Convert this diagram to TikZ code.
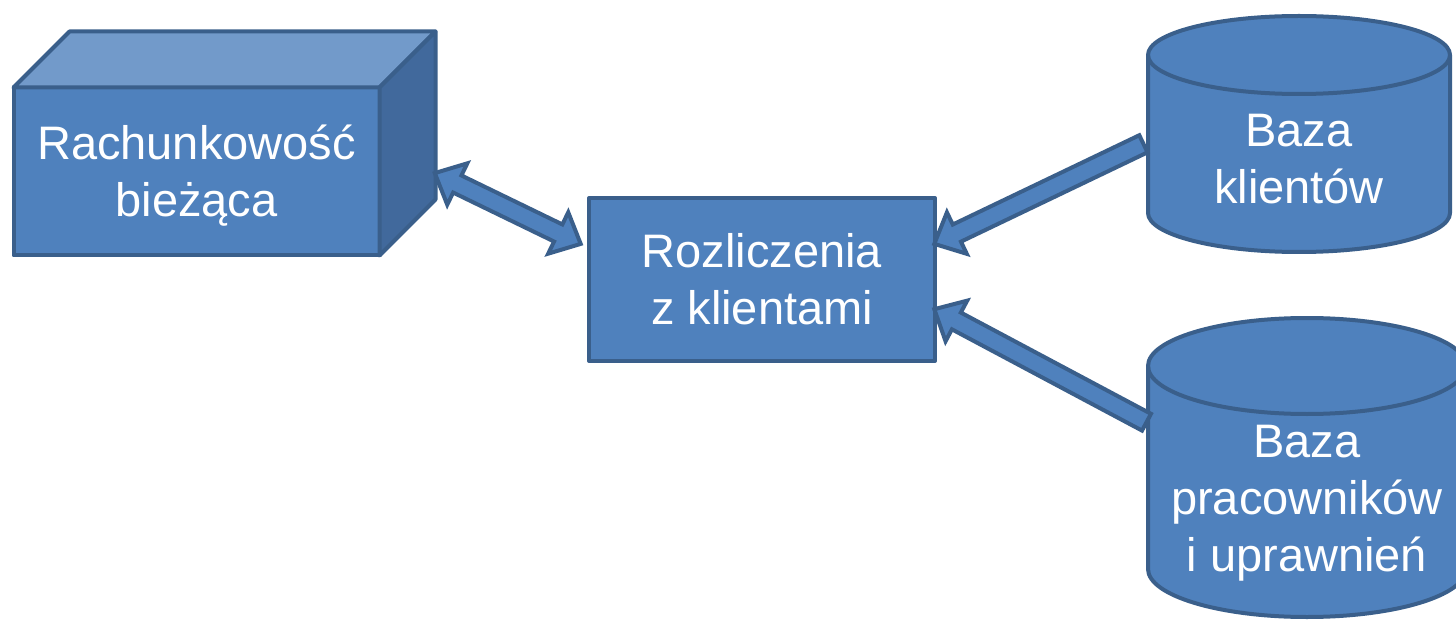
\documentclass[tikz,border=0pt]{standalone}
\usepackage{fontspec}
\setmainfont{Liberation Sans}
\usetikzlibrary{calc}
\definecolor{fillblue}{HTML}{4F81BD}
\definecolor{edgeblue}{HTML}{3A5F8B}
\definecolor{topblue}{HTML}{729ACA}
\definecolor{sideblue}{HTML}{41699C}
\newcommand\capstrut{\rule[-11.7pt]{0pt}{57pt}}
% single block arrow: #1 tail, #2 tip
\newcommand\singleblk[2]{%
  \coordinate (hA) at ($(#2)!25pt!(#1)$);
  \draw[blk] ($(#1)!9.5pt!90:(#2)$) -- ($(hA)!9.5pt!90:(#2)$) -- ($(hA)!23pt!90:(#2)$)
    -- (#2) -- ($(hA)!23pt!-90:(#2)$) -- ($(hA)!9.5pt!-90:(#2)$) -- ($(#1)!9.5pt!-90:(#2)$) -- cycle;}
% double block arrow: #1 tip, #2 tip
\newcommand\doubleblk[2]{%
  \coordinate (hA) at ($(#1)!25pt!(#2)$);
  \coordinate (hB) at ($(#2)!25pt!(#1)$);
  \draw[blk] (#1) -- ($(hA)!23pt!90:(#2)$) -- ($(hA)!9.5pt!90:(#2)$) -- ($(hB)!9.5pt!90:(#2)$)
    -- ($(hB)!23pt!90:(#2)$) -- (#2) -- ($(hB)!23pt!-90:(#2)$) -- ($(hB)!9.5pt!-90:(#2)$)
    -- ($(hA)!9.5pt!-90:(#2)$) -- ($(hA)!23pt!-90:(#2)$) -- cycle;}
% cylinder: cx, rx, y top centre, y bottom centre, ry
\newcommand\drum[5]{%
  \path[shp] (#1-#2,#3) -- (#1-#2,#4) arc[start angle=180,end angle=360,x radius=#2pt,y radius=#5pt]
    -- (#1+#2,#3) arc[start angle=0,end angle=180,x radius=#2pt,y radius=#5pt] -- cycle;
  \draw[shp,fill=none] (#1-#2,#3) arc[start angle=180,end angle=360,x radius=#2pt,y radius=#5pt];}

\begin{document}
\begin{tikzpicture}[x=1pt,y=-1pt,
  shp/.style={fill=fillblue, draw=edgeblue, line width=4pt, line join=round},
  txt/.style={text=white, align=center, inner sep=0pt, font=\fontsize{47}{57}\selectfont},
  box/.style={shp, txt, rectangle, outer sep=0pt},
  blk/.style={shp, line join=miter, miter limit=4}]
\useasboundingbox (0,0) rectangle (1456,620);

% cube
\node[box, minimum width=366pt, minimum height=168pt] (cube) at (196.5,171.5)
  {\capstrut Rachunkowość\\\capstrut bieżąca};
\draw[shp, fill=topblue] (cube.north west) -- ($(cube.north west)+(56,-56)$)
  -- ($(cube.north east)+(56,-56)$) -- (cube.north east) -- cycle;
\draw[shp, fill=sideblue] (cube.north east) -- ($(cube.north east)+(56,-56)$)
  -- ($(cube.south east)+(56,-56)$) -- (cube.south east) -- cycle;

% central box
\node[box, minimum width=346pt, minimum height=163pt] (center) at (762,279.5)
  {\capstrut Rozliczenia\\\capstrut z klientami};

% databases
\drum{1299}{151}{55}{213}{39}
\node[txt] (db1) at (1299,158.5) {\capstrut Baza\\\capstrut klientów};
\drum{1307}{159}{366}{569}{48}
\node[txt] (db2) at (1307,497.5) {\capstrut Baza\\\capstrut pracowników\\\capstrut i uprawnień};

% arrow end points
\coordinate (cubeport) at ($(cube.east)+(55.3,1.6)$);
\coordinate (centerwest) at ($(center.west)+(-8.3,-35.6)$);
\coordinate (centereastA) at ($(center.east)+(-0.7,-35.6)$);
\coordinate (centereastB) at ($(center.east)+(-0.7,29.7)$);
\coordinate (db1port) at (1143.4,143.8);
\coordinate (db2port) at (1146.5,422.2);

% block arrows
\doubleblk{cubeport}{centerwest}
\singleblk{db1port}{centereastA}
\singleblk{db2port}{centereastB}
\end{tikzpicture}
\end{document}
